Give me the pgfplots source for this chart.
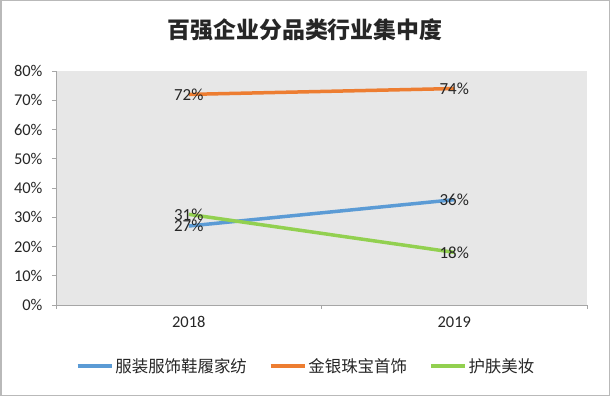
\documentclass[border=0pt]{standalone}
\usepackage{pgfplots}
\pgfplotsset{compat=1.18}
\usepackage{fontspec}
\setmainfont{Carlito}
\newfontfamily\cjk{Noto Sans CJK SC}
\definecolor{cblue}{HTML}{5B9BD5}
\definecolor{corange}{HTML}{ED7D31}
\definecolor{cgreen}{HTML}{92D050}
\definecolor{bgc}{HTML}{E7E7E7}
\definecolor{axc}{HTML}{A6A6A6}
\definecolor{txt}{HTML}{262626}
\begin{document}
\begin{tikzpicture}
\useasboundingbox (0,0) rectangle (610bp,396bp);
\draw[color=gray!55, line width=1.5bp] (0.75bp,0.75bp) rectangle (609.25bp,395.25bp);
\begin{axis}[
  at={(56bp,91bp)}, anchor=south west,
  scale only axis, width=531bp, height=234bp,
  xmin=0, xmax=2, ymin=0, ymax=80,
  axis background/.style={fill=bgc},
  axis x line*=bottom, axis y line*=left,
  axis line style={draw=axc, line width=0.8bp, -},
  xtick={0,1,2}, xticklabels={},
  extra x ticks={0.5,1.5}, extra x tick labels={2018,2019},
  extra x tick style={major tick length=0pt},
  ytick={0,10,...,80},
  yticklabel={\pgfmathprintnumber{\tick}\%},
  /pgf/number format/assume math mode=true,
  tick align=outside, major tick length=4bp,
  tick style={draw=axc, line width=0.8bp},
  tick label style={font=\fontsize{16.5}{19}\selectfont, text=txt},
  xticklabel style={yshift=-8bp},
  yticklabel style={xshift=-6bp},
  legend style={draw=none, fill=none, at={(0.471,-0.26)}, anchor=center,
    legend columns=-1, font=\cjk\fontsize{16.5}{19}\selectfont, text=txt,
    /tikz/every even column/.append style={column sep=20bp}},
  legend image code/.code={\draw[#1, line width=3.5bp] (0bp,0bp) -- (34bp,0bp);},
  nodes near coords={\pgfmathprintnumber{\pgfplotspointmeta}\%},
  every node near coord/.append style={anchor=center, font=\fontsize{17}{19}\selectfont, text=txt},
  clip=false,
]
\addplot[cblue, line width=3.5bp, mark=none] coordinates {(0.5,27) (1.5,36)};
\addlegendentry{服装服饰鞋履家纺}
\addplot[corange, line width=3.5bp, mark=none] coordinates {(0.5,72) (1.5,74)};
\addlegendentry{金银珠宝首饰}
\addplot[cgreen, line width=3.5bp, mark=none] coordinates {(0.5,31) (1.5,18)};
\addlegendentry{护肤美妆}
\node[font=\cjk\bfseries\fontsize{23}{27}\selectfont, text=txt] at (axis description cs:0.469,1.175) {百强企业分品类行业集中度};
\end{axis}
\end{tikzpicture}
\end{document}
